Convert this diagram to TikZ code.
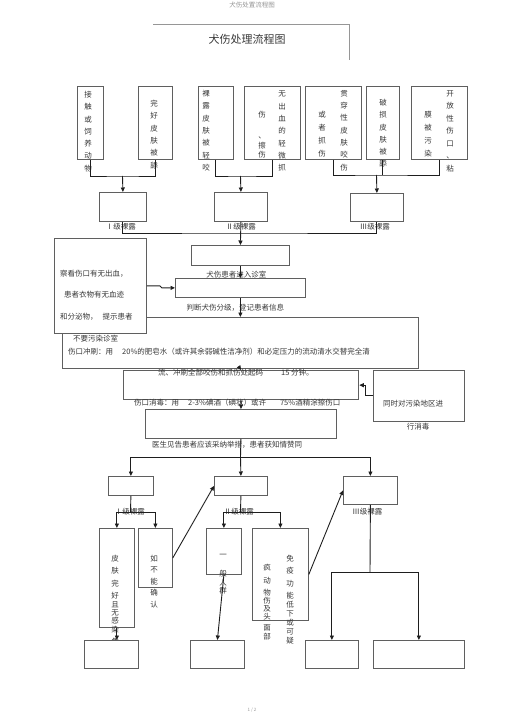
\documentclass[tikz,border=0pt]{standalone}
\usepackage{fontspec}
\setmainfont{Noto Sans CJK SC}
\usepackage{tikz}
\usetikzlibrary{arrows.meta,positioning,calc}
\definecolor{caixaCinza}  {RGB}{95, 95, 95}
\definecolor{textoCinza}  {RGB}{55, 55, 55}
\definecolor{setaPreta}   {RGB}{30, 30, 30}
\definecolor{tituloCinza} {RGB}{150,150,150}

\begin{document}
\begin{tikzpicture}[x=1pt,y=-1pt,
    caixa/.style={draw=caixaCinza,fill=white,line width=0.8pt,anchor=north west,inner sep=0pt},
    caixaGrossa/.style={caixa,line width=1.3pt},
    coluna/.style={font=\fontsize{7.5}{12.3}\selectfont,text=textoCinza,align=center,inner sep=0pt,anchor=north},
    texto/.style={font=\fontsize{7.5}{9}\selectfont,text=textoCinza,inner sep=0pt,anchor=west},
    rotulo/.style={font=\fontsize{7.5}{9}\selectfont,text=textoCinza,inner sep=0pt},
    linha/.style={draw=setaPreta,line width=0.9pt},
    seta/.style={linha,-{Triangle[length=4.5pt,width=4pt]}}]
        \useasboundingbox (0,0) rectangle (505,714);

        % Cabecalho
        \node[rotulo,font=\fontsize{6.5}{8}\selectfont,text=tituloCinza] (cab) at (252,5) {犬伤处置流程图};
        \draw[tituloCinza,line width=0.6pt] (153,24) -- (349,24) -- (349,60);
        \node[rotulo,font=\fontsize{11}{13}\selectfont] (titulo) at (247,39) {犬伤处理流程图};

        % Caixas do topo
        \node[caixa,minimum width=26,minimum height=73] (b1) at (77,86) {};
        \node[caixa,minimum width=34,minimum height=73] (b2) at (138,86) {};
        \node[caixa,minimum width=35,minimum height=73] (b3) at (198,86) {};
        \node[caixa,minimum width=56,minimum height=73] (b4) at (244,86) {};
        \node[caixa,minimum width=56,minimum height=73] (b5) at (305,86) {};
        \node[caixa,minimum width=33,minimum height=73] (b6) at (366,86) {};
        \node[caixa,minimum width=56,minimum height=73] (b7) at (411,86) {};

        \node[coluna] (b1t) at (88,91) {接\\触\\或\\饲\\养\\动\\物};
        \node[coluna] (b2t) at (154,100) {完\\好\\皮\\肤\\被\\舔};
        \node[coluna] (b3t) at (206,90) {裸\\露\\皮\\肤\\被\\轻\\咬};
        \node[coluna] (b4a) at (262,111) {伤\\[9pt]、\\[-3pt]擦\\[-3pt]伤};
        \node[coluna] (b4b) at (282,91) {无\\出\\血\\的\\轻\\微\\抓};
        \node[coluna,font=\fontsize{7.5}{13}\selectfont] (b5a) at (322,111) {或\\者\\抓\\伤};
        \node[coluna] (b5b) at (344,90) {贯\\穿\\性\\皮\\肤\\咬\\伤};
        \node[coluna] (b6t) at (383,99) {破\\损\\皮\\肤\\被\\舔};
        \node[coluna,font=\fontsize{7.5}{13}\selectfont] (b7a) at (428,111) {膜\\被\\污\\染};
        \node[coluna,font=\fontsize{7.5}{12.5}\selectfont] (b7b) at (450,90) {开\\放\\性\\伤\\口\\、\\粘};

        % Niveis de exposicao
        \node[caixa,minimum width=47,minimum height=29] (l1) at (99,192) {};
        \node[caixa,minimum width=53,minimum height=29] (l2) at (214,192) {};
        \node[caixa,minimum width=53,minimum height=28] (l3) at (350,193) {};
        \node[rotulo,below=1pt of l1,xshift=-2pt] (l1r) {Ⅰ级裸露};
        \node[rotulo,below=1pt of l2] (l2r) {Ⅱ级裸露};
        \node[rotulo,below=1pt of l3,xshift=-2pt] (l3r) {Ⅲ级裸露};

        \coordinate (j1) at (122.5,176);
        \coordinate (j2) at (240.5,176);
        \coordinate (j3) at (376.5,175);
        \draw[linha] (b1.south) |- (j1) -| (b2.south);
        \draw[linha] (b3.south) |- (j2) -| (b4.south);
        \draw[linha] (b5.south) |- (j3) -| (b7.south);
        \draw[linha] (b6.south) -- (b6.south |- j3);
        \draw[seta] (j1) -- (l1.north);
        \draw[seta] (j2) -- (l2.north);
        \draw[seta] (j3) -- (l3.north);

        % Entrada e triagem
        \node[caixa,minimum width=98,minimum height=20] (e) at (191,245) {};
        \node[caixa,minimum width=130,minimum height=19] (j) at (175,278) {};
        \node[rotulo,below=5pt of e,xshift=-4pt] (er) {犬伤患者进入诊室};
        \node[rotulo,below=6pt of j,xshift=-5pt] (jr) {判断犬伤分级，登记患者信息};

        \coordinate (h1) at (240,233);
        \draw[linha] (l1.south) |- (h1) -| (l3.south);
        \draw[seta] (l2.south) -- (e.north);
        \draw[seta] (e.south) -- (j.north);

        % Lavagem (caixa grande atras da nota)
        \node[caixaGrossa,minimum width=356,minimum height=51] (k) at (62,317) {};
        \draw[seta] (j.south) -- (k.north -| j.south);
        \node[caixa,minimum width=92,minimum height=95] (n) at (54,238) {};
        \node[texto] (n1) at (60,274) {察看伤口有无出血，};
        \node[texto] (n2) at (64,295) {患者衣物有无血迹};
        \node[texto] (n3) at (60,317) {和分泌物，\hspace{5pt}提示患者};
        \draw[seta] (n.east) -- ++(13,0) -- ++(2,2) -- (j.west);

        \node[texto] (k1) at (73,339) {不要污染诊室};
        \node[texto] (k2) at (68,352) {伤口冲刷：用\hspace{9pt}20\%的肥皂水（或许其余弱碱性洁净剂）和必定压力的流动清水交替完全清};

        % Lavagem 15 min e desinfeccao do local
        \node[caixaGrossa,minimum width=235,minimum height=29] (l) at (123,370) {};
        \node[caixa,minimum width=91,minimum height=51] (r) at (373,370) {};
        \draw[seta] (k.south) -- (l.north);
        \node[texto] (l1t) at (158,373) {流、冲刷全部咬伤和抓伤处起码\hspace{18pt}15 分钟。};
        \node[texto] (r1) at (383,404) {同时对污染地区进};
        \node[rotulo] (r2) at (418,427) {行消毒};
        \draw[seta] (r.west) -- ++(-8,0) |- (l.east);

        \node[texto] (l2t) at (134,403) {伤口消毒：用\hspace{9pt}2-3\%碘酒（碘状）或许\hspace{14pt}75\%酒精涂擦伤口};

        % Consentimento
        \node[caixa,minimum width=191,minimum height=29] (m) at (145,409) {};
        \draw[seta] (l.south) -- (m.north);
        \node[texto] (m1) at (152,445) {医生见告患者应该采纳举措，患者获知情赞同};

        % Segundo nivel
        \node[caixa,minimum width=45,minimum height=19] (p1) at (108,476) {};
        \node[caixa,minimum width=53,minimum height=19] (p2) at (214,476) {};
        \node[caixa,minimum width=54,minimum height=28] (p3) at (343,476) {};
        \node[rotulo,below=12pt of p1,xshift=-1pt] (p1r) {Ⅰ级裸露};
        \node[rotulo,below=12pt of p2,xshift=-2pt] (p2r) {Ⅱ级裸露};
        \node[rotulo,below=3pt of p3,xshift=-3pt] (p3r) {Ⅲ级裸露};

        \coordinate (s0) at (240.5,457);
        \draw[linha] (m.south) -- (s0);
        \draw[seta] (s0) -| (p1.north);
        \draw[seta] (s0) -- (p2.north);
        \draw[seta] (s0) -| (p3.north);

        % Casos
        \node[caixa,minimum width=35,minimum height=99] (q1) at (99,528) {};
        \node[caixa,minimum width=34,minimum height=59] (q2) at (138,528) {};
        \node[caixa,minimum width=35,minimum height=46] (q3) at (206,528) {};
        \node[caixa,minimum width=56,minimum height=92] (q4) at (252,528) {};

        \coordinate (s1) at (130.5,512);
        \coordinate (s2) at (240.5,512);
        \coordinate (s3) at (370,572);
        \draw[linha] (p1.south) -- (s1);
        \draw[seta] (s1) -| (q1.north);
        \draw[seta] (s1) -| (q2.north);
        \draw[linha] (p2.south) -- (s2);
        \draw[seta] (s2) -| (q3.north);
        \draw[seta] (s2) -| (q4.north);

        \node[coluna,font=\fontsize{7.5}{12.4}\selectfont] (q1t) at (115,555)
          {皮\\肤\\完\\好\\[-4pt]且\\[-4pt]无\\[-4pt]感\\[-4pt]染\\危\\[-3pt]险};
        \node[coluna,font=\fontsize{7.5}{11.5}\selectfont] (q2t) at (154,555) {如\\不\\能\\确\\认};
        \node[coluna,font=\fontsize{7.5}{11.5}\selectfont] (q3t) at (223,554) {一\\[8pt]般\\[-3pt]人\\[-3pt]群};
        \node[coluna,font=\fontsize{7.5}{12.5}\selectfont] (q4a) at (267,564)
          {疯\\动\\物\\[-4.5pt]伤\\[-4.5pt]及\\[-4.5pt]头\\[-2pt]面\\[-3.5pt]部};
        \node[coluna,font=\fontsize{7.5}{12.4}\selectfont] (q4b) at (290,555)
          {免\\疫\\功\\能\\[-3.5pt]低\\[-4pt]下\\[-2.5pt]或\\[-3.5pt]可\\[-4pt]疑};

        \draw[seta] (q2.east) -- (p2.west);
        \draw[seta] (q4.east) -- (p3.west);

        % Caixas finais
        \node[caixa,minimum width=54,minimum height=28] (q5) at (84,640) {};
        \node[caixa,minimum width=54,minimum height=28] (q6) at (190,640) {};
        \node[caixa,minimum width=53,minimum height=28] (q7) at (305,640) {};
        \node[caixa,minimum width=91,minimum height=28] (q8) at (373,640) {};

        \draw[seta] (q1.south) -- (q1.south |- q5.north);
        \draw[seta] (q3.south) -- (q6.north);
        \draw[linha] (p3.south) -- (s3);
        \draw[seta] (s3) -| (q7.north);
        \draw[seta] (s3) -| (q8.north);

        % Rodape
        \node[rotulo,font=\fontsize{4.5}{5}\selectfont,text=tituloCinza] (pag) at (252,710) {1 / 2};
      \end{tikzpicture}
\end{document}
